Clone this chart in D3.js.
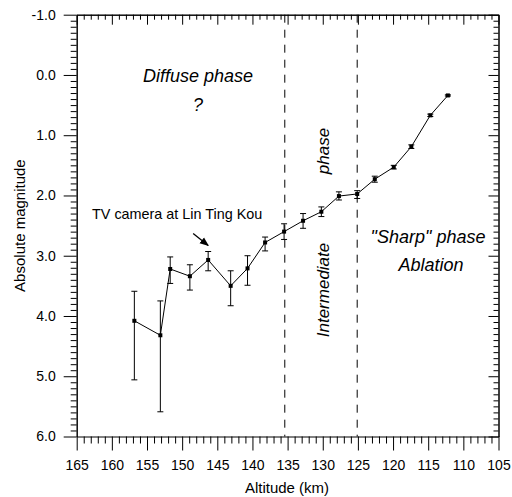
<!DOCTYPE html>
<html>
<head>
<meta charset="utf-8">
<script src="https://cdn.jsdelivr.net/npm/d3@7"></script>
<style>
  body { margin: 0; background: #fff; }
  svg { display: block; font-family: "Liberation Sans", Arial, sans-serif; }
  .domain { stroke: #000; }
  .tick line { stroke: #000; }
  .tick text { fill: #000; font-size: 14px; }
</style>
</head>
<body>
<svg id="chart" width="512" height="497"></svg>
<script>
var altitude = [156.8, 153.1, 151.7, 148.9, 146.3, 143.1, 140.7, 138.2, 135.5,
                132.8, 130.2, 127.7, 125.1, 122.6, 119.9, 117.4, 114.7, 112.2];
// Absolute magnitude at that altitude
var magnitude = [4.08, 4.32, 3.22, 3.34, 3.07, 3.50, 3.21, 2.78, 2.60,
                 2.42, 2.27, 2.01, 1.975, 1.73, 1.53, 1.19, 0.67, 0.34];
// Error bar ends (bright end, faint end)
var err_low = [3.59, 3.75, 3.02, 3.15, 2.93, 3.25, 3.00, 2.69, 2.47,
               2.30, 2.19, 1.94, 1.92, 1.68, 1.50, 1.16, 0.65, 0.33];
var err_high = [5.06, 5.59, 3.46, 3.57, 3.25, 3.83, 3.49, 2.92, 2.73,
                2.545, 2.35, 2.075, 2.05, 1.78, 1.56, 1.22, 0.69, 0.35];
// Phase boundaries (dashed lines)
var boundaries = [135.4, 125.1];
// Axis ticks
var x_major = [165, 160, 155, 150, 145, 140, 135, 130, 125, 120, 115, 110, 105];
var y_major = [-1, 0, 1, 2, 3, 4, 5, 6];

var svg = d3.select('#chart');
var plot_left = 76.7, plot_right = 498.5, plot_top = 14.7, plot_bottom = 436.5;

var x = d3.scaleLinear().domain([165, 105]).range([plot_left, plot_right]);
var y = d3.scaleLinear().domain([-1, 6]).range([plot_top, plot_bottom]);

// minor ticks: every 1 km and every 0.1 mag
var x_minor = d3.range(105, 166, 1).filter(function (v) { return v % 5 !== 0; });
var y_minor = d3.range(-10, 61, 1).filter(function (v) { return v % 10 !== 0; })
    .map(function (v) { return v / 10; });

function draw_axis(axis_fn, scale, values, size, transform, labels, pad) {
    var a = axis_fn(scale).tickValues(values).tickSizeInner(size).tickSizeOuter(0);
    if (labels) {
        a.tickFormat(labels).tickPadding(pad);
    } else {
        a.tickFormat('');
    }
    return svg.append('g').attr('transform', transform).call(a);
}

// bottom: outward ticks with labels
draw_axis(d3.axisBottom, x, x_minor, 7, 'translate(0,' + plot_bottom + ')', null)
    .select('.domain').remove();
draw_axis(d3.axisBottom, x, x_major, 14, 'translate(0,' + plot_bottom + ')', function (d) { return d; }, 10);
// top: inward ticks
draw_axis(d3.axisBottom, x, x_minor, 5, 'translate(0,' + plot_top + ')', null);
draw_axis(d3.axisBottom, x, x_major, 10, 'translate(0,' + plot_top + ')', null);
// left: outward ticks with labels
draw_axis(d3.axisLeft, y, y_minor, 6, 'translate(' + plot_left + ',0)', null);
draw_axis(d3.axisLeft, y, y_major, 13, 'translate(' + plot_left + ',0)', function (d) { return d.toFixed(1); }, 8);
// right: inward ticks
draw_axis(d3.axisLeft, y, y_minor, 5, 'translate(' + plot_right + ',0)', null);
draw_axis(d3.axisLeft, y, y_major, 10, 'translate(' + plot_right + ',0)', null);

// phase boundaries
svg.selectAll('.boundary').data(boundaries).enter().append('line')
    .attr('class', 'boundary')
    .attr('x1', function (d) { return x(d); }).attr('x2', function (d) { return x(d); })
    .attr('y1', plot_top).attr('y2', plot_bottom)
    .attr('stroke', '#000').attr('stroke-dasharray', '8,7');

var points = altitude.map(function (a, i) {
    return { alt: a, mag: magnitude[i], lo: err_low[i], hi: err_high[i] };
});

// error bars
var bars = svg.append('g').attr('stroke', '#000').attr('stroke-width', 1);
points.forEach(function (p) {
    var px = x(p.alt);
    bars.append('line').attr('x1', px).attr('x2', px).attr('y1', y(p.lo)).attr('y2', y(p.hi));
    bars.append('line').attr('x1', px - 3).attr('x2', px + 3).attr('y1', y(p.lo)).attr('y2', y(p.lo));
    bars.append('line').attr('x1', px - 3).attr('x2', px + 3).attr('y1', y(p.hi)).attr('y2', y(p.hi));
});

// connecting line
svg.append('path').datum(points)
    .attr('fill', 'none').attr('stroke', '#000').attr('stroke-width', 1)
    .attr('d', d3.line().x(function (d) { return x(d.alt); }).y(function (d) { return y(d.mag); }));

svg.selectAll('.pt').data(points).enter().append('rect')
    .attr('class', 'pt')
    .attr('x', function (d) { return x(d.alt) - 2; })
    .attr('y', function (d) { return y(d.mag) - 2; })
    .attr('width', 4).attr('height', 4).attr('fill', '#000');

// axis titles
svg.append('text').attr('x', 287).attr('y', 493)
    .attr('text-anchor', 'middle').attr('font-size', 15).text('Altitude (km)');
svg.append('text').attr('transform', 'translate(25,' + (plot_top + plot_bottom) / 2 + ') rotate(-90)')
    .attr('text-anchor', 'middle').attr('font-size', 15).text('Absolute magnitude');

// phase labels
function label(txt, px, py, size, rot) {
    var t = svg.append('text').attr('text-anchor', 'middle').attr('font-size', size)
        .attr('font-style', 'italic').text(txt);
    if (rot) {
        t.attr('transform', 'translate(' + px + ',' + py + ') rotate(-90)');
    } else {
        t.attr('x', px).attr('y', py);
    }
}
label('Diffuse phase', 198, 82, 18);
label('?', 198, 111, 18);
label('phase', 329, 151, 17, true);
label('Intermediate', 329, 290, 17, true);
label('"Sharp" phase', 428, 243, 18);
label('Ablation', 431, 271, 18);

// TV camera annotation
var target = points[4];
var tip_x = x(target.alt), tip_y = y(target.lo) - 6;
svg.append('text').attr('x', 92).attr('y', 219).attr('font-size', 14.4)
    .text('TV camera at Lin Ting Kou');
svg.append('defs').append('marker').attr('id', 'arrow')
    .attr('viewBox', '0 0 10 10').attr('refX', 9).attr('refY', 5)
    .attr('markerWidth', 7).attr('markerHeight', 7).attr('orient', 'auto')
    .append('path').attr('d', 'M0,1 L10,5 L0,9 Z').attr('fill', '#000');
svg.append('line').attr('x1', tip_x - 15).attr('y1', tip_y - 12)
    .attr('x2', tip_x).attr('y2', tip_y)
    .attr('stroke', '#000').attr('stroke-width', 1.3).attr('marker-end', 'url(#arrow)');
</script>
</body>
</html>
